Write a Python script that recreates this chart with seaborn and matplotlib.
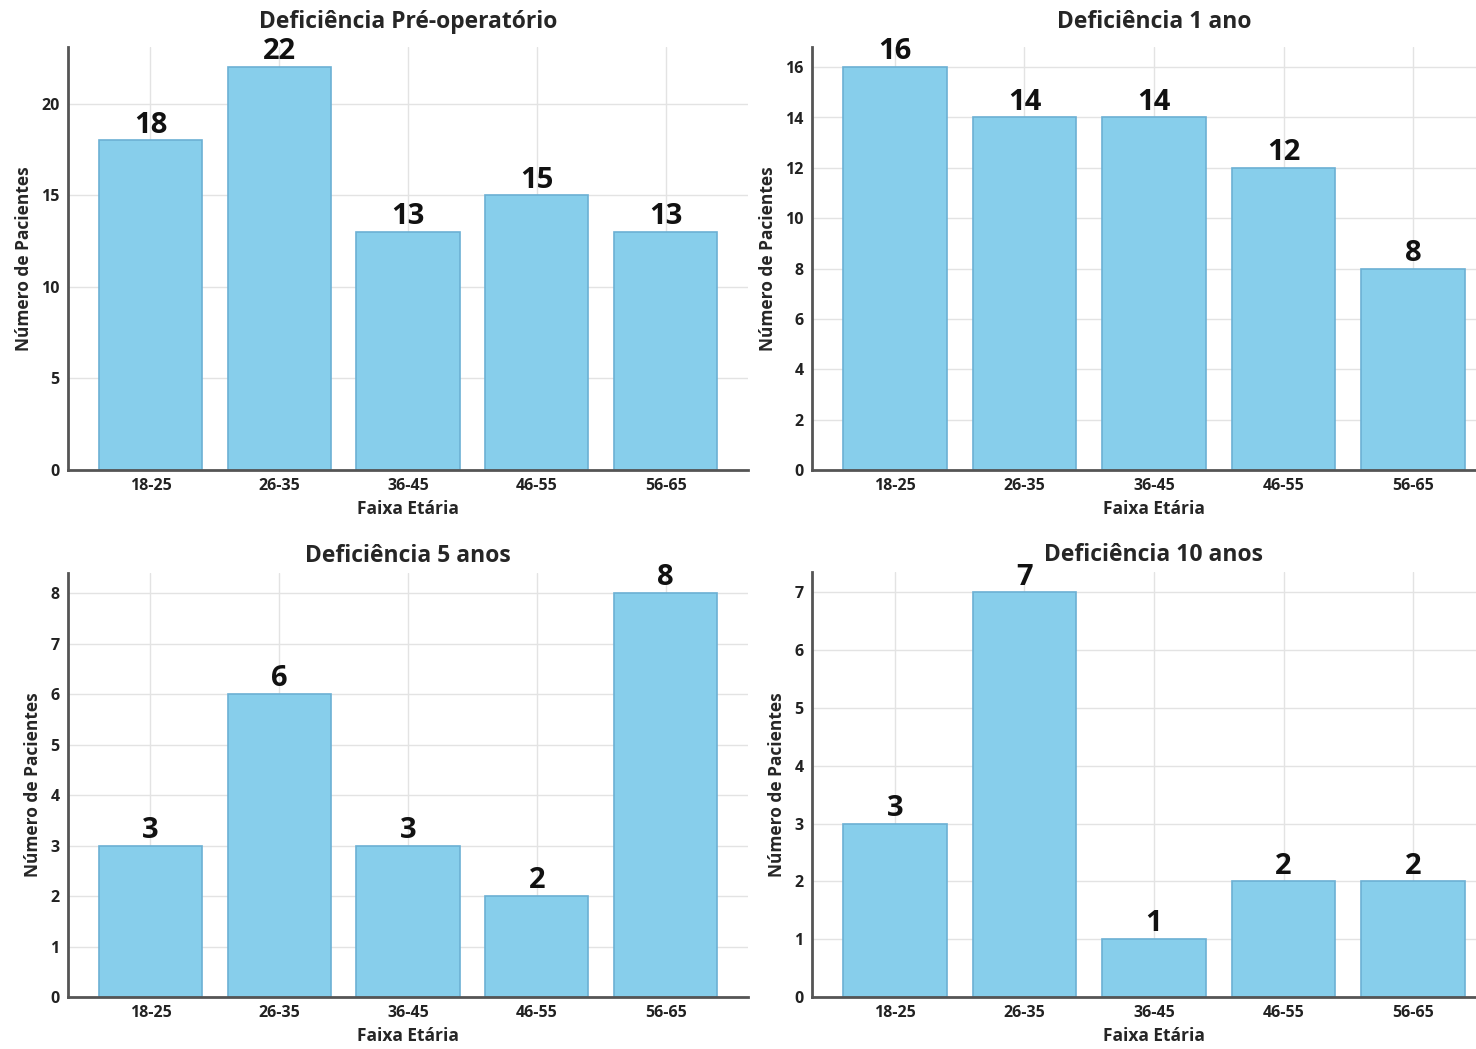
import matplotlib
matplotlib.use("Agg")
import matplotlib.pyplot as plt
import seaborn as sns
import pandas as pd

faixas = ["18-25", "26-35", "36-45", "46-55", "56-65"]
pre_operatorio = [18, 22, 13, 15, 13]
um_ano = [16, 14, 14, 12, 8]
cinco_anos = [3, 6, 3, 2, 8]
dez_anos = [3, 7, 1, 2, 2]

titulos = ["Deficiência Pré-operatório", "Deficiência 1 ano",
           "Deficiência 5 anos", "Deficiência 10 anos"]
series = [pre_operatorio, um_ano, cinco_anos, dez_anos]
yticks = [[0, 5, 10, 15, 20], list(range(0, 17, 2)),
          list(range(0, 9)), list(range(0, 8))]

sns.set_style("whitegrid")
plt.rcParams["font.family"] = ["Open Sans", "DejaVu Sans"]

W, H = 1476, 1049
fig = plt.figure(figsize=(W / 100, H / 100), dpi=100)

# axes boxes in pixels: left, top, right, bottom
caixas = [(68, 47, 748, 470), (812, 47, 1496, 470),
          (68, 573, 748, 997), (812, 572, 1496, 997)]
pads = [14, 14, 8, 8]

for titulo, valores, ticks, (x0, y0, x1, y1), pad in zip(titulos, series, yticks, caixas, pads):
    ax = fig.add_axes([x0 / W, (H - y1) / H, (x1 - x0) / W, (y1 - y0) / H])
    df = pd.DataFrame({"Faixa Etária": faixas, "Pacientes": valores})
    sns.barplot(data=df, x="Faixa Etária", y="Pacientes", ax=ax,
                color="#87CEEB", saturation=1, width=0.8,
                edgecolor="#6cb0d4", linewidth=1.2, zorder=2)
    ax.set_xlim(-0.64, 4.64)
    ax.set_ylim(0, max(valores) * 1.05)
    ax.set_yticks(ticks)
    ax.set_axisbelow(True)
    ax.grid(True, color="#e3e3e3", linewidth=1)
    for s in ["top", "right"]:
        ax.spines[s].set_visible(False)
    for s in ["left", "bottom"]:
        ax.spines[s].set_color("#555555")
        ax.spines[s].set_linewidth(2)
    ax.tick_params(axis="both", labelsize=11.5, colors="#222222", length=3,
                   width=1.5, pad=3)
    for lab in ax.get_xticklabels() + ax.get_yticklabels():
        lab.set_fontweight("bold")
    ax.set_title(titulo, fontsize=16.5, fontweight="bold", pad=pad)
    ax.set_xlabel("Faixa Etária", fontsize=12.5, fontweight="bold", labelpad=4)
    ax.set_ylabel("Número de Pacientes", fontsize=12.5, fontweight="bold", labelpad=6)
    for i, v in enumerate(valores):
        ax.annotate(str(v), (i, v), xytext=(0, 0.5), textcoords="offset points",
                    ha="center", va="bottom", fontsize=21, fontweight="bold",
                    color="#111111")

fig.savefig("out.png", dpi=100)
